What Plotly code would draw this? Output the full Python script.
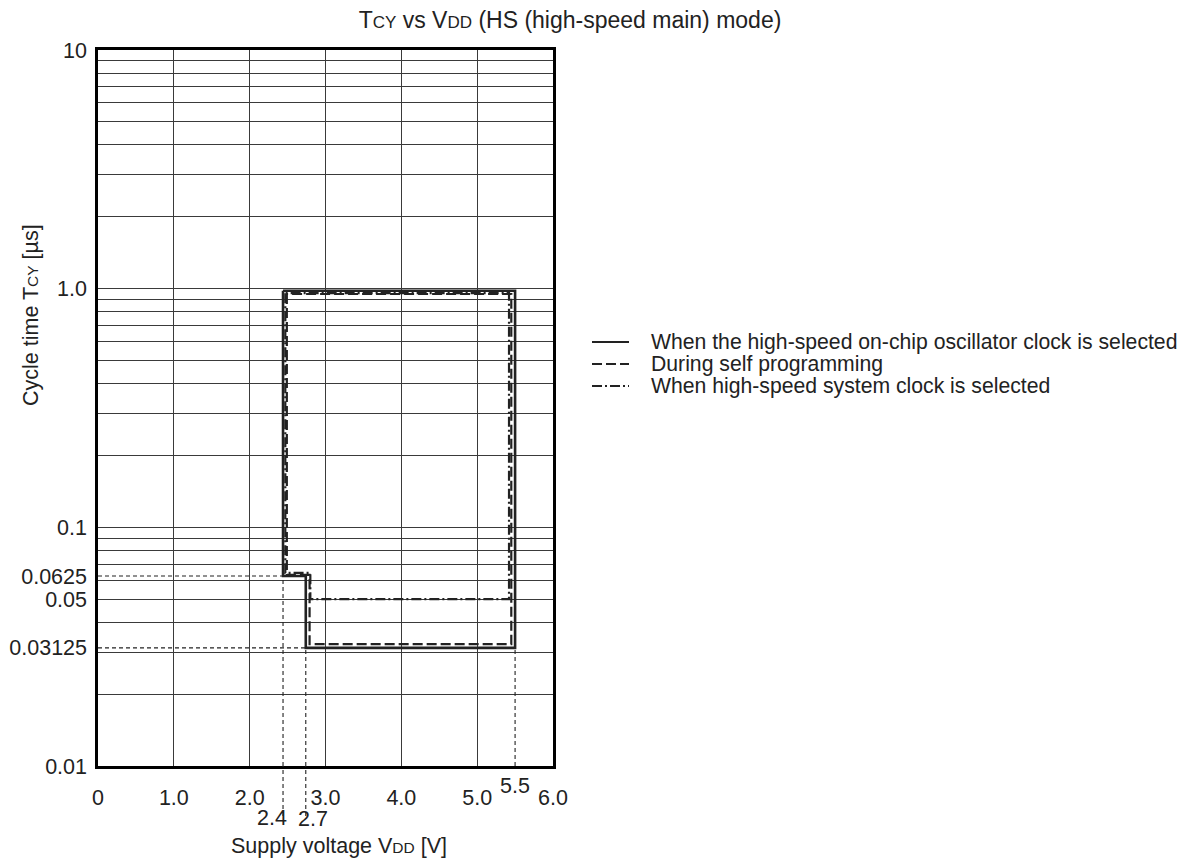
import plotly.graph_objects as go

FONT = "Liberation Sans, Arial, Helvetica, sans-serif"
INK = "#222222"
GRID = "#3a3a3a"
FS = 21.5
FS_LEG = 21.2

# ---------------- data (as drawn in the reference) ----------------
# Supply voltage VDD [V] / cycle time TCY [us]
osc_v = [2.44, 2.44, 2.74, 2.74, 5.50, 5.50, 2.44]
osc_t = [0.98, 0.0625, 0.0625, 0.03125, 0.03125, 0.98, 0.98]

selfprog_v = [2.49, 2.49, 2.79, 2.79, 5.45, 5.45, 2.49]
selfprog_t = [0.95, 0.0632, 0.0632, 0.0324, 0.0324, 0.95, 0.95]

sysclk_v = [2.47, 2.47, 2.80, 2.80, 5.42, 5.42, 2.47]
sysclk_t = [0.957, 0.0644, 0.0644, 0.05, 0.05, 0.957, 0.957]

series_names = [
    "When the high-speed on-chip oscillator clock is selected",
    "During self programming",
    "When high-speed system clock is selected",
]

# reference (guide) lines
guide_h_t = [0.0625, 0.03125]
guide_h_v_end = [2.44, 2.74]
guide_v_v = [2.44, 2.74, 5.50]
guide_v_t_end = [0.0625, 0.03125, 0.03125]

x_ticks = [0, 1, 2, 3, 4, 5, 6]
x_ticktext = ["0", "1.0", "2.0", "3.0", "4.0", "5.0", "6.0"]
x_extra_vals = [2.44, 2.74, 5.50]
x_extra_text = ["2.4", "2.7", "5.5"]

y_ticks = [0.01, 0.03125, 0.05, 0.0625, 0.1, 1.0, 10]
y_ticktext = ["0.01", "0.03125", "0.05", "0.0625", "0.1", "1.0", "10"]
y_grid = [m * 10.0 ** e for e in (-2, -1, 0) for m in range(1, 10)] + [10.0]

# ---------------- layout geometry ----------------
OFF = 8  # page body margin in the screenshot
W, H = 1189, 863
ML, MT = 98 - OFF, 50 - OFF
PW, PH = 455, 716
MR, MB = W - ML - PW, H - MT - PH


def px_x(p):  # screenshot pixel -> paper x
    return (p - OFF - ML) / PW


def px_y(p):  # screenshot pixel -> paper y
    return (MT + PH - (p - OFF)) / PH


fig = go.Figure()

LW = 2.2
styles = [
    dict(color=INK, width=LW + 0.4, dash="solid"),
    dict(color=INK, width=LW, dash="10px,4px"),
    dict(color=INK, width=LW, dash="10px,3px,2px,3px"),
]
for vv, tt, st, nm in zip([osc_v, selfprog_v, sysclk_v],
                          [osc_t, selfprog_t, sysclk_t], styles, series_names):
    fig.add_trace(go.Scatter(x=vv, y=tt, mode="lines", line=st, name=nm,
                             showlegend=False, xaxis="x", yaxis="y",
                             hoverinfo="skip"))

# guide lines inside plot (on the labelled overlay axis)
gx, gy = [], []
for t, v in zip(guide_h_t, guide_h_v_end):
    gx += [0, v, None]
    gy += [t, t, None]
for v, t in zip(guide_v_v, guide_v_t_end):
    gx += [v, v, None]
    gy += [0.01, t, None]
fig.add_trace(go.Scatter(x=gx, y=gy, mode="lines",
                         line=dict(color=INK, width=1.1, dash="4px,3px"),
                         showlegend=False, xaxis="x", yaxis="y2",
                         hoverinfo="skip"))

# guide extensions below the axis for 2.4 and 2.7
for v in guide_v_v[:2]:
    fig.add_shape(type="line", xref="x", yref="paper", x0=v, x1=v,
                  y0=px_y(816), y1=0,
                  line=dict(color=INK, width=1.1, dash="4px,3px"))

# extra x labels
extra_pos = [(-11, 818), (7, 819), (0, 786)]
for v, txt, (dx, ypix) in zip(x_extra_vals, x_extra_text, extra_pos):
    fig.add_annotation(x=v, xref="x", y=px_y(ypix), yref="paper", text=txt,
                       showarrow=False, xshift=dx,
                       xanchor="center", yanchor="middle",
                       font=dict(family=FONT, size=FS, color=INK))

# axis titles
small = '<span style="font-size:15.5px">{}</span>'
fig.add_annotation(x=px_x(339), xref="paper", y=px_y(846), yref="paper",
                   text="Supply voltage V" + small.format("DD") + " [V]",
                   showarrow=False, xanchor="center", yanchor="middle",
                   font=dict(family=FONT, size=FS, color=INK))
fig.add_annotation(x=px_x(31), xref="paper", y=px_y(315), yref="paper",
                   text="Cycle time T" + small.format("CY") + " [µs]",
                   textangle=-90, showarrow=False, xanchor="center",
                   yanchor="middle",
                   font=dict(family=FONT, size=FS, color=INK))

# manual legend
leg_rows = [342, 364, 386]
for nm, st, row in zip(series_names, styles, leg_rows):
    fig.add_shape(type="line", xref="paper", yref="paper",
                  x0=px_x(592), x1=px_x(629), y0=px_y(row), y1=px_y(row),
                  line=dict(color=INK, width=1.8, dash=st["dash"]))
    fig.add_annotation(x=px_x(649), xref="paper", y=px_y(row), yref="paper",
                       text=nm, showarrow=False, xanchor="left",
                       yanchor="middle",
                       font=dict(family=FONT, size=FS_LEG, color=INK))

title_small = '<span style="font-size:17px">{}</span>'
fig.update_layout(
    width=W, height=H,
    margin=dict(l=ML, r=MR, t=MT, b=MB, autoexpand=False),
    paper_bgcolor="white", plot_bgcolor="white",
    font=dict(family=FONT, size=FS, color=INK),
    title=dict(text="T" + title_small.format("CY") + " vs V"
               + title_small.format("DD") + " (HS (high-speed main) mode)",
               x=(570 - OFF) / W, xref="container", xanchor="center",
               y=1, yref="container", yanchor="top",
               pad=dict(t=4, b=0, l=0, r=0),
               font=dict(family=FONT, size=23, color=INK)),
    xaxis=dict(range=[0, 6], tickmode="array", tickvals=x_ticks,
               ticktext=x_ticktext, showgrid=True, gridcolor=GRID,
               gridwidth=1, zeroline=False, showline=True, linecolor="black",
               linewidth=2.5, mirror=True, ticks="", ticklabelstandoff=10,
               tickfont=dict(family=FONT, size=FS, color=INK)),
    yaxis=dict(type="log", range=[-2, 1], tickmode="array", tickvals=y_grid,
               showticklabels=False, showgrid=True, gridcolor=GRID,
               gridwidth=1, zeroline=False, showline=True, linecolor="black",
               linewidth=2.5, mirror=True, ticks=""),
    yaxis2=dict(type="log", range=[-2, 1], overlaying="y", side="left",
                tickmode="array", tickvals=y_ticks, ticktext=y_ticktext,
                showgrid=False, zeroline=False, showline=False, ticks="",
                ticklabelstandoff=10,
                tickfont=dict(family=FONT, size=FS, color=INK)),
    showlegend=False,
)

fig.write_html("out.html")
